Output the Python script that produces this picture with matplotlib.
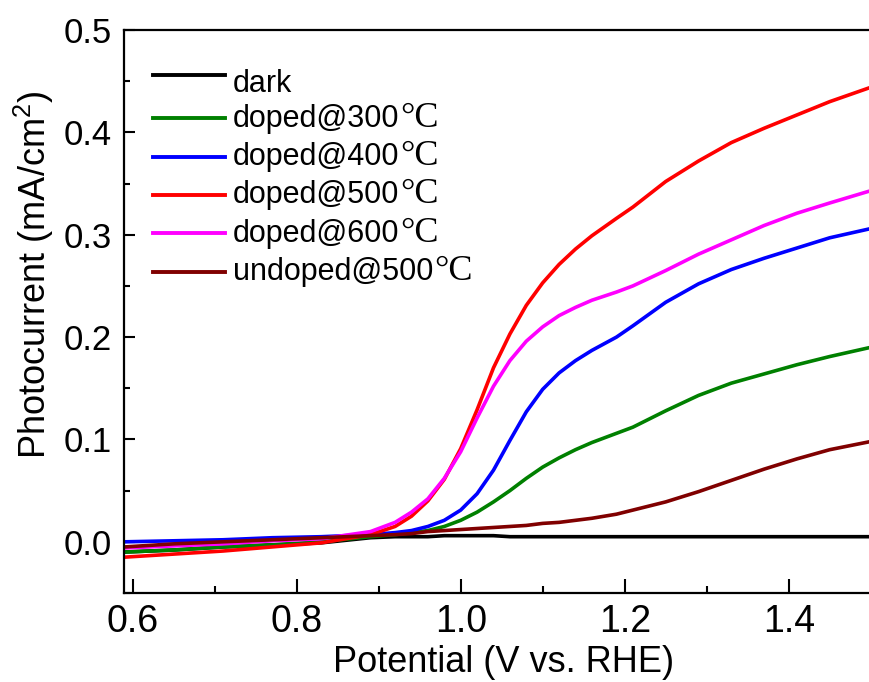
import matplotlib
matplotlib.use("Agg")
import matplotlib.pyplot as plt
from matplotlib.ticker import MultipleLocator
from matplotlib.lines import Line2D

plt.rcParams['font.family'] = ['Liberation Sans', 'DejaVu Sans']
plt.rcParams['mathtext.fontset'] = 'custom'
plt.rcParams['mathtext.rm'] = 'Liberation Sans'
plt.rcParams['mathtext.it'] = 'Liberation Sans'

potential = [0.59, 0.65, 0.71, 0.77, 0.83, 0.89, 0.92, 0.94, 0.96, 0.98,
             1.00, 1.02, 1.04, 1.06, 1.08, 1.10, 1.12, 1.14, 1.16, 1.19,
             1.21, 1.25, 1.29, 1.33, 1.37, 1.41, 1.45, 1.50]

dark = [-0.010, -0.008, -0.005, -0.003, -0.001, 0.004, 0.005, 0.005, 0.005, 0.006,
        0.006, 0.006, 0.006, 0.005, 0.005, 0.005, 0.005, 0.005, 0.005, 0.005,
        0.005, 0.005, 0.005, 0.005, 0.005, 0.005, 0.005, 0.005]
doped300 = [-0.010, -0.008, -0.005, -0.003, 0.000, 0.005, 0.007, 0.009, 0.011, 0.015,
            0.021, 0.029, 0.039, 0.050, 0.062, 0.073, 0.082, 0.090, 0.097, 0.106,
            0.112, 0.128, 0.143, 0.155, 0.164, 0.173, 0.181, 0.190]
doped400 = [0.000, 0.001, 0.002, 0.004, 0.005, 0.007, 0.009, 0.011, 0.015, 0.021,
            0.031, 0.047, 0.070, 0.099, 0.127, 0.149, 0.165, 0.177, 0.187, 0.200,
            0.211, 0.234, 0.252, 0.266, 0.277, 0.287, 0.297, 0.306]
doped500 = [-0.015, -0.012, -0.009, -0.005, -0.001, 0.007, 0.015, 0.025, 0.040, 0.061,
            0.091, 0.129, 0.170, 0.203, 0.231, 0.253, 0.271, 0.286, 0.299, 0.316,
            0.327, 0.352, 0.372, 0.390, 0.404, 0.417, 0.430, 0.444]
doped600 = [-0.006, -0.004, -0.002, 0.001, 0.003, 0.010, 0.019, 0.029, 0.042, 0.062,
            0.088, 0.121, 0.152, 0.177, 0.196, 0.210, 0.221, 0.229, 0.236, 0.244,
            0.250, 0.265, 0.281, 0.295, 0.309, 0.321, 0.331, 0.343]
undoped500 = [-0.005, -0.002, 0.000, 0.002, 0.004, 0.006, 0.007, 0.008, 0.010, 0.011,
              0.012, 0.013, 0.014, 0.015, 0.016, 0.018, 0.019, 0.021, 0.023, 0.027,
              0.031, 0.039, 0.049, 0.060, 0.071, 0.081, 0.090, 0.098]

labels = ['dark', 'doped@300°C', 'doped@400°C', 'doped@500°C',
          'doped@600°C', 'undoped@500°C']
colors = ['#000000', '#008000', '#0000FF', '#FF0000', '#FF00FF', '#800000']
series = [dark, doped300, doped400, doped500, doped600, undoped500]

xticks = [0.6, 0.8, 1.0, 1.2, 1.4]
yticks = [0.0, 0.1, 0.2, 0.3, 0.4, 0.5]

W, H = 869, 682
fig = plt.figure(figsize=(W / 100, H / 100), dpi=100)
ax = fig.add_axes([124 / W, 89 / H, 746.7 / W, 563 / H])

for ys, c in zip(series, colors):
    ax.plot(potential, ys, color=c, lw=2.6)

ax.set_xlim(0.5894, 1.5)
ax.set_ylim(-0.05, 0.5)
ax.set_xticks(xticks)
ax.set_yticks(yticks)
ax.set_xticklabels([f'{v:.1f}' for v in xticks])
ax.set_yticklabels([f'{v:.1f}' for v in yticks])
ax.xaxis.set_minor_locator(MultipleLocator(0.1))
ax.yaxis.set_minor_locator(MultipleLocator(0.05))
ax.tick_params(axis='x', which='major', direction='in', length=10, width=1.5, labelsize=27, pad=8)
ax.tick_params(axis='x', which='minor', direction='in', length=5, width=1.5)
ax.tick_params(axis='y', which='major', direction='in', length=8, width=1.5, labelsize=25, pad=9)
ax.tick_params(axis='y', which='minor', direction='in', length=4, width=1.5)
for s in ax.spines.values():
    s.set_linewidth(1.6)

ax.set_xlabel('Potential (V vs. RHE)', fontsize=26)
ax.set_ylabel('Photocurrent (mA/cm$^2$)', fontsize=26)
ax.xaxis.set_label_coords(0.508, -0.092)
ax.yaxis.set_label_coords(-0.091, 0.565)

# manual legend (layout positions in pixels from top-left)
handle_x0, handle_x1, text_x = 153, 225, 233
handle_y = [75, 118.3, 156.7, 195, 233.3, 271.7]
text_y = [91.7, 126.7, 165, 203, 241.7, 280]
texts = []
for lab, c, hy, ty in zip(labels, colors, handle_y, text_y):
    fig.add_artist(Line2D([handle_x0 / W, handle_x1 / W], [1 - hy / H, 1 - hy / H],
                          transform=fig.transFigure, color=c, lw=2.8))
    base = lab.replace('°C', '')
    t = fig.text(text_x / W, 1 - ty / H, base, fontsize=22, va='baseline', ha='left')
    texts.append((t, lab.endswith('°C')))

fig.canvas.draw()
renderer = fig.canvas.get_renderer()
for t, has_unit in texts:
    if has_unit:
        bb = t.get_window_extent(renderer)
        x1 = bb.x1 + 1
        y = t.get_position()[1]
        fig.text(x1 / W, y, '°C', fontsize=26, family='Liberation Serif',
                 va='baseline', ha='left')

fig.savefig('out.png', dpi=100)
